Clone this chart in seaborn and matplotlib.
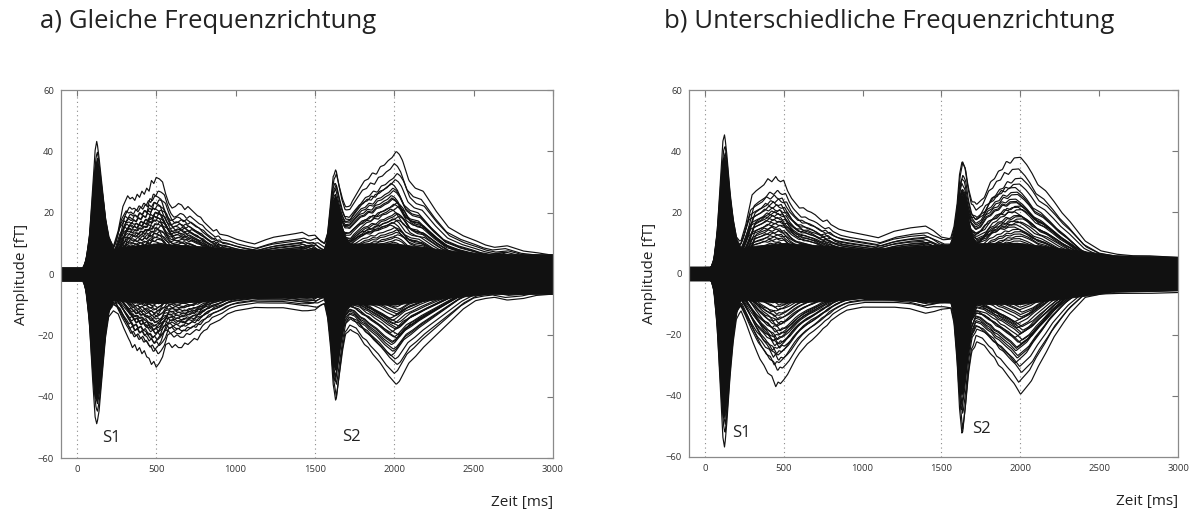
import numpy as np
import pandas as pd
import matplotlib
matplotlib.use("Agg")
import matplotlib.pyplot as plt
import seaborn as sns

sns.set_style("white")
plt.rcParams["font.family"] = ["Open Sans", "DejaVu Sans"]

# ---------------------------------------------------------------- data
# Time axis of the averaged field (ms)
t_grid = np.arange(-100, 3001, 5)

# Slow / sustained field of the outermost channels, per condition
sus_t_a = [-100, 0, 50, 100, 150, 200, 230, 260, 290, 320, 335, 350, 365, 380, 395, 410, 425, 440,
           455, 470, 485, 500, 520, 540, 560, 580, 600, 620, 640, 660, 680, 700, 720, 740, 760,
           780, 800, 820, 840, 860, 880, 900, 950, 1000, 1060, 1120, 1180, 1240, 1300, 1360,
           1420, 1460, 1500, 1540, 1580, 1620, 1660, 1700, 1720, 1760, 1800, 1825, 1850, 1875,
           1900, 1925, 1950, 1975, 2000, 2020, 2040, 2080, 2120, 2170, 2250, 2330, 2420, 2500,
           2560, 2620, 2700, 2800, 2880, 3000]
sus_top_a = [1.5, 1.5, 2, 3, 4, 6, 9, 14, 22, 25.5, 24.5, 25, 24, 26, 25, 27, 26, 28,
             27, 30.5, 29.5, 31.5, 31, 30, 26, 23, 21.5, 22, 23, 22.5, 21, 22, 21, 20, 19,
             18.5, 17, 16, 15, 14, 14.5, 13, 12.5, 11.4, 10.5, 9.8, 11, 12, 12.5, 13,
             13.6, 12.5, 13, 11, 10, 12, 17, 21, 23.4, 27, 30.4, 31, 33, 32.5,
             35, 35.5, 37, 38, 40, 39, 37, 30.5, 28, 27, 20.6, 15.2, 12.5, 10.9,
             9.5, 8.7, 9.2, 7.5, 7, 6]
sus_bot_a = [-1.5, -1.5, -2, -3, -5, -8, -12, -13, -17, -20.5, -22, -24, -23, -25, -24, -26, -25, -27,
             -27.5, -29.5, -28.5, -30.4, -29, -27, -23, -22.5, -24, -23, -24, -24, -22.5, -23, -22, -21, -21.5,
             -19.6, -18.5, -18, -16.5, -16, -15.5, -15, -13, -12, -11.5, -10.9, -11, -11, -11, -11.5,
             -12, -12, -12, -10.5, -10, -11, -14, -17.4, -18.5, -19.6, -23, -24, -26, -27.5,
             -29, -31, -33, -34.5, -36, -35, -33, -29, -27, -24, -20, -16, -11.5, -8.7,
             -8, -7.6, -8.5, -8, -7, -6.5]

sus_t_b = [-100, 0, 50, 100, 150, 200, 220, 260, 300, 325, 350, 375, 400, 425, 450, 465, 480, 500,
           525, 550, 575, 600, 625, 650, 675, 700, 725, 750, 775, 800, 850, 900, 1000, 1100, 1200,
           1300, 1400, 1450, 1500, 1550, 1600, 1650, 1700, 1740, 1760, 1800, 1825, 1850, 1875,
           1900, 1925, 1950, 1990, 2030, 2060, 2100, 2150, 2200, 2250, 2300, 2400, 2500, 2600,
           2700, 2800, 3000]
sus_top_b = [1.5, 2, 2, 3, 4, 7, 9, 16, 25.7, 27, 28, 29, 31, 30, 31.7, 30.5, 30, 30.5,
             27, 24.6, 23, 21.4, 21.5, 20.5, 20, 19.2, 18, 17, 17.5, 16, 14.5, 13.8, 12.8, 11.7, 13.8,
             14.9, 15.5, 14, 12.2, 12, 14, 16, 22, 24, 24.8, 30, 31, 33.5, 34,
             36.7, 36, 37.8, 38, 35.5, 33, 29, 27, 23.7, 20, 17.2, 10.6, 7.4, 6.3,
             5.8, 5.8, 5.2]
sus_bot_b = [-1.5, -2, -2, -3, -5, -9, -11, -16, -21.8, -25, -28, -30, -32.6, -33.5, -37, -35.5, -36, -34.8,
             -33, -30.5, -28, -26, -24.5, -23, -22, -20.8, -19.5, -18, -17, -15.4, -13.5, -12, -11, -11, -11,
             -11.5, -13, -12.5, -12, -12, -12, -16, -22, -23, -23.5, -26.3, -27.5, -30, -31,
             -32.8, -34.5, -36, -39.5, -37, -35, -30.6, -26, -20.9, -17, -13.3, -7.8, -6.7, -6.5,
             -6.5, -6.5, -6.2]

# Transient N1 deflections after S1 and S2
n1_s1_t = [40, 60, 80, 100, 115, 126, 140, 160, 180, 200, 230]
n1_s1_top_a = [0, 3, 10, 25, 37, 40, 34, 24, 13, 6, 0]
n1_s1_bot_a = [0, -4, -14, -32, -43, -45, -40, -27, -14, -6, 0]
n1_s1_top_b = [0, 3, 12, 28, 40, 42, 35, 22, 12, 5, 0]
n1_s1_bot_b = [0, -4, -16, -36, -50, -53, -44, -28, -15, -6, 0]

n1_s2_t = [1560, 1580, 1600, 1615, 1632, 1650, 1670, 1690, 1720]
n1_s2_top_a = [0, 4, 14, 21, 22, 15, 8, 3, 0]
n1_s2_bot_a = [0, -5, -15, -26, -31, -22, -12, -4, 0]
n1_s2_top_b = [0, 3, 10, 19, 23, 20, 11, 4, 0]
n1_s2_bot_b = [0, -5, -18, -32, -40, -30, -16, -6, 0]

# Channel weights: sustained field after S1, after S2, transient N1; latency offsets (ms)
gain_early = [1.00, 0.86, 0.81, 0.77, 0.74, 0.71, 0.68, 0.66, 0.64, 0.62, 0.60, 0.58, 0.56, 0.54,
              0.52, 0.50, 0.48, 0.46, 0.44, 0.42, 0.40, 0.38, 0.36, 0.34, 0.32, 0.30, 0.28, 0.26,
              0.24, 0.22, 0.20, 0.17, 0.14, 0.11, 0.08, 0.05]
gain_late = [0.90, 1.00, 0.70, 0.82, 0.62, 0.77, 0.74, 0.55, 0.68, 0.58, 0.64, 0.50, 0.61, 0.44,
             0.57, 0.47, 0.53, 0.38, 0.49, 0.42, 0.34, 0.45, 0.30, 0.40, 0.36, 0.26, 0.32, 0.22,
             0.28, 0.18, 0.24, 0.15, 0.20, 0.12, 0.09, 0.06]
gain_n1 = [1.00, 0.93, 0.80, 0.88, 0.76, 0.70, 0.84, 0.62, 0.72, 0.58, 0.66, 0.82, 0.74, 0.46,
           0.55, 0.68, 0.60, 0.35, 0.78, 0.50, 0.42, 0.64, 0.36, 0.52, 0.30, 0.44, 0.24, 0.40,
           0.20, 0.33, 0.28, 0.16, 0.22, 0.12, 0.10, 0.06]
lag_sus = [0, 12, -9, 18, -15, 6, -21, 24, -6, 15, -18, 9, -12, 21, -3, 27, -24, 3,
           18, -15, 12, -9, 6, -27, 15, -6, 21, -18, 9, -3, 24, -12, 3, -21, 12, 0]
lag_n1 = [0, 3, -2, 4, -3, 1, -4, 5, -1, 3, -4, 2, -2, 4, -1, 5, -5, 1,
          4, -3, 2, -2, 1, -5, 3, -1, 4, -4, 2, -1, 5, -3, 1, -4, 3, 0]

# Dense inner band of low-amplitude channels
core_t = [-100, 30, 50, 70, 100, 150, 200, 300, 500, 800, 1000, 1500, 1560, 1600, 1700, 2000,
          2300, 2600, 3000]
core_top_a = [2.3, 2.3, 3, 6, 8, 9, 8, 9, 10, 9, 8, 8, 8, 9, 10, 10, 8, 6.5, 6.5]
core_bot_a = [-2.3, -2.3, -3, -6, -9, -9, -8, -9, -9.5, -9, -8, -7.5, -7.5, -9, -10, -10, -8, -6.5, -6.5]
core_top_b = [2.3, 2.3, 3, 6, 8, 9, 8, 9, 10, 9, 8, 9.5, 9.5, 9.5, 10, 10, 8, 6, 5.5]
core_bot_b = [-2.3, -2.3, -3, -6, -9, -9, -8, -9, -9.5, -9, -8, -9.5, -9.5, -9.5, -10, -10, -8, -6, -5.5]
core_n1_share = 0.72

conditions = [
    dict(title="a) Gleiche Frequenzrichtung",
         sus=(sus_t_a, sus_top_a, sus_bot_a),
         n1a=(n1_s1_top_a, n1_s1_bot_a), n1b=(n1_s2_top_a, n1_s2_bot_a),
         core=(core_top_a, core_bot_a),
         s1=(220, -53.5), s2=(1733, -53)),
    dict(title="b) Unterschiedliche Frequenzrichtung",
         sus=(sus_t_b, sus_top_b, sus_bot_b),
         n1a=(n1_s1_top_b, n1_s1_bot_b), n1b=(n1_s2_top_b, n1_s2_bot_b),
         core=(core_top_b, core_bot_b),
         s1=(230, -52), s2=(1752, -51)),
]


def n1_curve(tt, cond, idx):
    return (np.interp(tt, n1_s1_t, cond["n1a"][idx], left=0, right=0)
            + np.interp(tt, n1_s2_t, cond["n1b"][idx], left=0, right=0))


def channel_frame(cond):
    st, stop, sbot = cond["sus"]
    # weight moves from the S1 gain to the S2 gain between 1450 and 1650 ms
    w_late = np.clip((t_grid - 1450) / 200.0, 0, 1)
    rows = []
    for side, idx in (("pos", 0), ("neg", 1)):
        sus_v = stop if idx == 0 else sbot
        for k in range(len(gain_early)):
            g = gain_early[k] * (1 - w_late) + gain_late[k] * w_late
            v = (g * np.interp(t_grid - lag_sus[k], st, sus_v)
                 + gain_n1[k] * n1_curve(t_grid - lag_n1[k], cond, idx))
            rows.append(pd.DataFrame({"t": t_grid, "amp": v, "ch": f"{side}{k}"}))
    return pd.concat(rows, ignore_index=True)


# ---------------------------------------------------------------- figure
fig = plt.figure(figsize=(11.94, 5.13), dpi=100)
axes_pos = [(61 / 1194, 55 / 513, 492 / 1194, 368 / 513),
            (689 / 1194, 56 / 513, 489 / 1194, 367 / 513)]
title_x = [40 / 1194, 664 / 1194]

for cond, pos, tx in zip(conditions, axes_pos, title_x):
    ax = fig.add_axes(pos)
    for xv in (0, 500, 1500, 2000):
        ax.axvline(xv, color="#8a8a8a", lw=0.8, ls=(0, (1, 3)), zorder=0)

    ct, cb = cond["core"]
    band_top = np.interp(t_grid, core_t, ct) + core_n1_share * n1_curve(t_grid, cond, 0)
    band_bot = np.interp(t_grid, core_t, cb) + core_n1_share * n1_curve(t_grid, cond, 1)
    ax.fill_between(t_grid, band_top, band_bot, color="#111111", lw=0.6, edgecolor="#111111",
                    zorder=1)

    df = channel_frame(cond)
    sns.lineplot(data=df, x="t", y="amp", units="ch", estimator=None, color="#111111",
                 lw=0.85, ax=ax, legend=False, zorder=2)

    ax.set_xlim(-100, 3000)
    ax.set_ylim(-60, 60)
    ax.set_xticks([0, 500, 1000, 1500, 2000, 2500, 3000])
    ax.set_yticks([-60, -40, -20, 0, 20, 40, 60])
    ax.tick_params(direction="in", length=4, width=0.8, color="#777777", labelsize=6.8,
                   labelcolor="#333333", top=True, right=True, pad=5)
    for sp in ax.spines.values():
        sp.set_color("#8a8a8a")
        sp.set_linewidth(0.9)
    ax.set_xlabel("")
    ax.set_ylabel("Amplitude [fT]", fontsize=11, labelpad=6, color="#222222")

    ax.text(*cond["s1"], "S1", fontsize=12, ha="center", va="center", color="#222222")
    ax.text(*cond["s2"], "S2", fontsize=12, ha="center", va="center", color="#222222")
    ax.text(1.0, -0.12, "Zeit [ms]", transform=ax.transAxes, ha="right", va="center",
            fontsize=11, color="#222222")
    fig.text(tx, 1 - 21 / 513, cond["title"], fontsize=18.5, ha="left", va="center",
             color="#222222")

fig.savefig("out.png", dpi=100)
